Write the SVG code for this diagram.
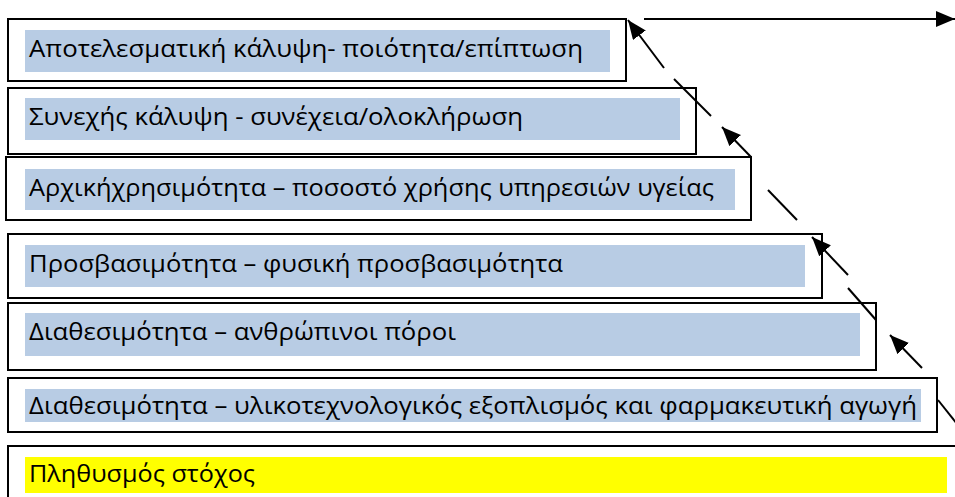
<svg xmlns="http://www.w3.org/2000/svg" width="955" height="497" viewBox="0 0 955 497">
<defs>
<style>
.box{fill:#fff;stroke:#000;stroke-width:2}
.band{fill:#b8cce4}
.yel{fill:#ffff00}
.t{font-family:"Open Sans","Noto Sans","DejaVu Sans",sans-serif;font-size:23px;fill:#000}
.c{stroke:#000;stroke-width:2;fill:none}
</style>
<marker id="ah" markerUnits="userSpaceOnUse" markerWidth="20" markerHeight="17" refX="19" refY="8" orient="auto">
<path d="M0,0 L19,8 L0,16 Z" fill="#000"/>
</marker>
</defs>
<rect width="955" height="497" fill="#fff"/>
<g id="n7">
<rect class="box" x="8" y="446" width="960" height="70"/>
<rect class="yel" x="25" y="457" width="922" height="36"/>
<text class="t" x="29" y="482" textLength="226" lengthAdjust="spacingAndGlyphs">Πληθυσμός στόχος</text>
</g>
<g id="n6">
<rect class="box" x="8" y="378" width="929" height="54"/>
<rect class="band" x="25" y="389" width="896" height="33"/>
<text class="t" x="29" y="414" textLength="888" lengthAdjust="spacingAndGlyphs">Διαθεσιμότητα – υλικοτεχνολογικός εξοπλισμός και φαρμακευτική αγωγή</text>
</g>
<g id="n5">
<rect class="box" x="8" y="303" width="868" height="67"/>
<rect class="band" x="25" y="313" width="835" height="43"/>
<text class="t" x="29" y="340" textLength="427" lengthAdjust="spacingAndGlyphs">Διαθεσιμότητα – ανθρώπινοι πόροι</text>
</g>
<g id="n4">
<rect class="box" x="8" y="234" width="814" height="64"/>
<rect class="band" x="25" y="245" width="780" height="42"/>
<text class="t" x="29" y="272" textLength="534" lengthAdjust="spacingAndGlyphs">Προσβασιμότητα – φυσική προσβασιμότητα</text>
</g>
<g id="n3">
<rect class="box" x="6" y="157" width="745" height="63"/>
<rect class="band" x="25" y="169" width="710" height="41"/>
<text class="t" x="29" y="196" textLength="685" lengthAdjust="spacingAndGlyphs">Αρχικήχρησιμότητα – ποσοστό χρήσης υπηρεσιών υγείας</text>
</g>
<g id="n2">
<rect class="box" x="8" y="88" width="688" height="66"/>
<rect class="band" x="25" y="98" width="655" height="42"/>
<text class="t" x="29" y="125" textLength="494" lengthAdjust="spacingAndGlyphs">Συνεχής κάλυψη - συνέχεια/ολοκλήρωση</text>
</g>
<g id="n1">
<rect class="box" x="8" y="19" width="618" height="62"/>
<rect class="band" x="25" y="30" width="585" height="42"/>
<text class="t" x="29" y="57" textLength="554" lengthAdjust="spacingAndGlyphs">Αποτελεσματική κάλυψη- ποιότητα/επίπτωση</text>
</g>
<g id="connectors">
<line class="c" x1="644" y1="19" x2="955" y2="19" marker-end="url(#ah)"/>
<line class="c" x1="664" y1="68" x2="628" y2="20" marker-end="url(#ah)"/>
<line class="c" x1="674" y1="79" x2="711" y2="116"/>
<line class="c" x1="751" y1="157" x2="722" y2="127" marker-end="url(#ah)"/>
<line class="c" x1="768" y1="190" x2="797" y2="220"/>
<line class="c" x1="848" y1="275" x2="812" y2="237" marker-end="url(#ah)"/>
<line class="c" x1="848" y1="288" x2="876" y2="320"/>
<line class="c" x1="922" y1="368" x2="890" y2="335" marker-end="url(#ah)"/>
<line class="c" x1="938" y1="400" x2="957" y2="424"/>
</g>
</svg>
